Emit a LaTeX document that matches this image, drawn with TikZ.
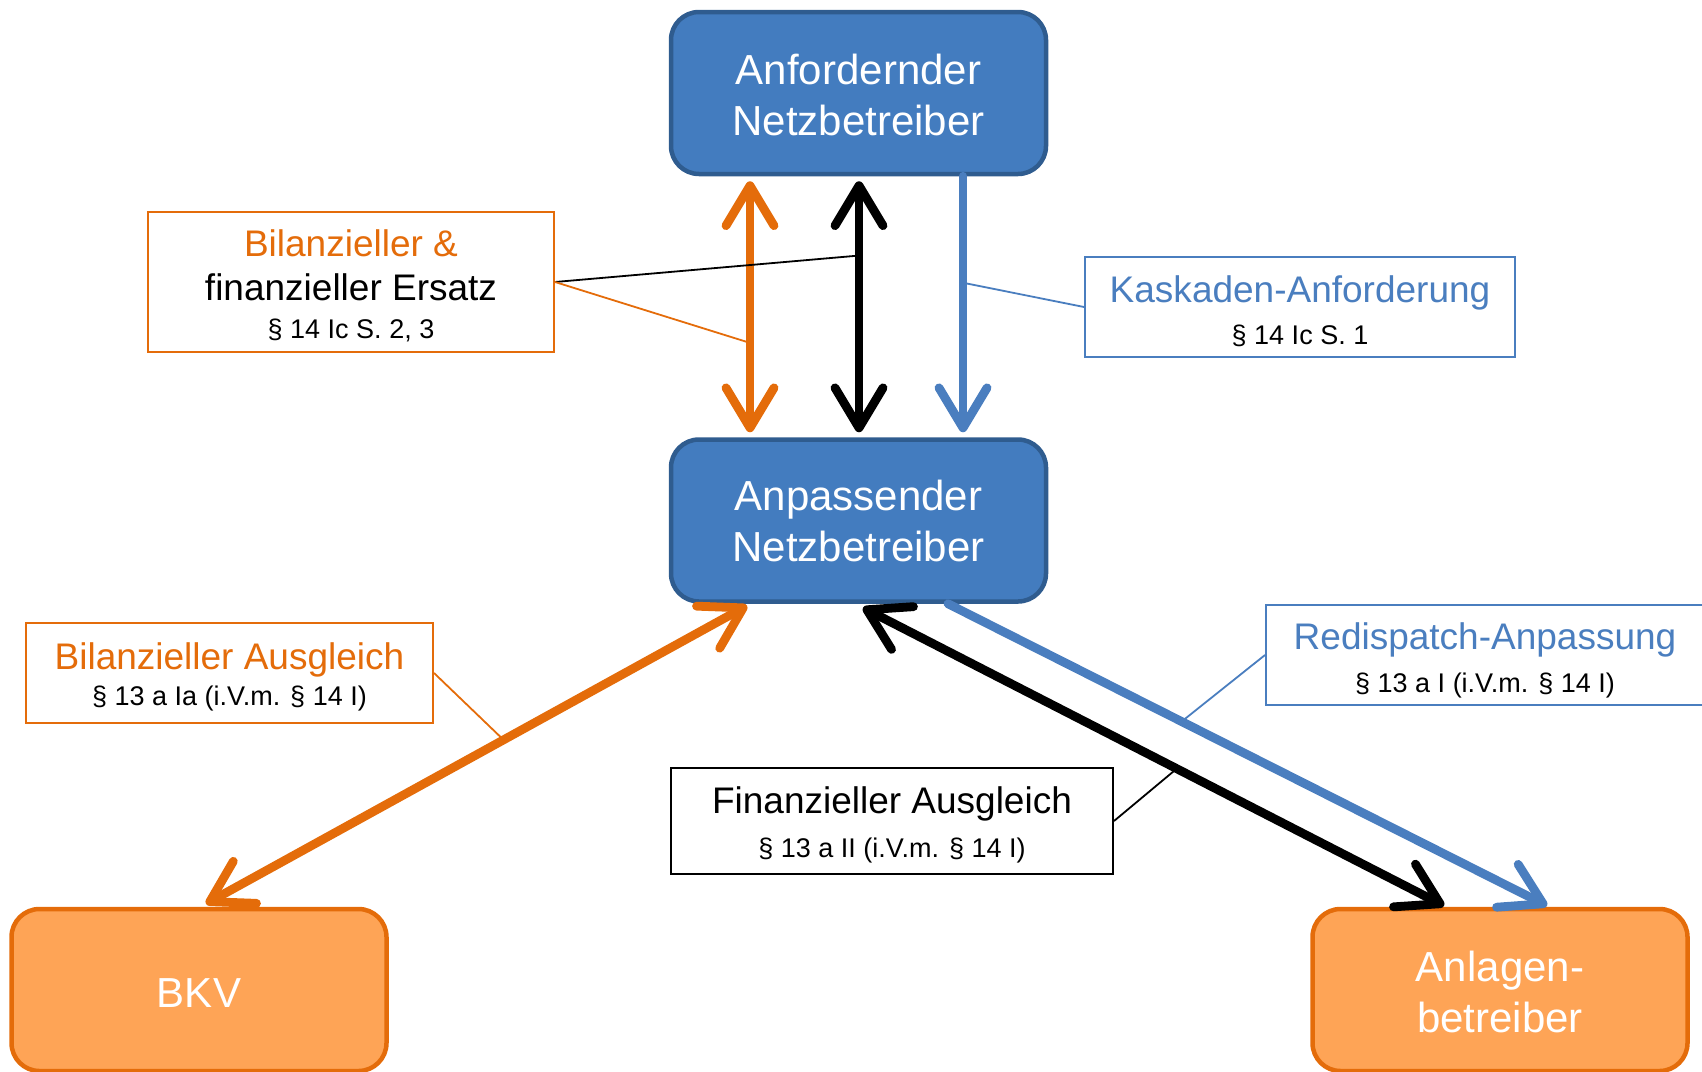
\documentclass[tikz,border=0pt]{standalone}
\usepackage{fontspec}
\setmainfont{Liberation Sans}
\usetikzlibrary{arrows.meta,calc}

\definecolor{boxblue}{HTML}{437CBF}
\definecolor{boxblueline}{HTML}{2F5C8F}
\definecolor{boxorange}{HTML}{FEA456}
\definecolor{darkorange}{HTML}{E46C0A}
\definecolor{arrowblue}{HTML}{4A7EBF}

\tikzset{
  party/.style={rounded corners=28pt, line width=4.5pt, minimum width=375pt,
    minimum height=162pt, inner sep=0pt, text=white, align=center,
    font=\fontsize{42}{51}\selectfont},
  gridop/.style={party, fill=boxblue, draw=boxblueline},
  member/.style={party, fill=boxorange, draw=darkorange},
  legal/.style={draw, line width=2pt, fill=white, inner sep=0pt, align=center,
    font=\fontsize{37}{44}\selectfont},
  barb/.tip={Straight Barb[length=40pt,width=48pt,round]},
  flow/.style={line width=8.8pt, line cap=round},
  leader/.style={line width=1.8pt},
}
% paragraph reference line under a label heading
\newcommand{\para}[1]{{\fontsize{27}{44}\selectfont #1}}
% taller first line, which sets the text block a little lower in its box
\newcommand{\strutA}{\rule{0pt}{35pt}}

\begin{document}
\begin{tikzpicture}[x=1pt,y=-1pt]
  \useasboundingbox (0,0) rectangle (1702,1071);
  \clip (0,0) rectangle (1702,1071);

  % label boxes for the legal references
  \node[legal, draw=darkorange, minimum width=406pt, minimum height=140pt]
    (ersatz) at (351,282)
    {\strutA\textcolor{darkorange}{Bilanzieller \&}\\finanzieller Ersatz\\[-6pt]\para{§ 14 Ic S. 2, 3}};
  \node[legal, draw=arrowblue, minimum width=430pt, minimum height=100pt]
    (kaskade) at (1300,307)
    {\strutA\textcolor{arrowblue}{Kaskaden-Anforderung}\\[-2pt]\para{§ 14 Ic S. 1}};
  \node[legal, draw=darkorange, minimum width=407pt, minimum height=100pt]
    (bilanz) at (229.5,673)
    {\strutA\textcolor{darkorange}{Bilanzieller Ausgleich}\\[-8pt]\para{§ 13 a Ia (i.V.m. § 14 I)}};
  \node[legal, draw=arrowblue, minimum width=438pt, minimum height=100pt]
    (redispatch) at (1485,655)
    {\rule{0pt}{37pt}\textcolor{arrowblue}{Redispatch-Anpassung}\\[-1pt]\para{§ 13 a I (i.V.m. § 14 I)}};
  \node[legal, draw=black, minimum width=442pt, minimum height=106pt]
    (finanz) at (892,821)
    {\strutA Finanzieller Ausgleich\\\para{§ 13 a II (i.V.m. § 14 I)}};

  % parties
  \node[gridop] (top) at (858.5,93) {\strutA Anfordernder\\Netzbetreiber};
  \node[gridop] (mid) at (858.5,520.5) {Anpassender\\Netzbetreiber};
  \node[member] (bkv) at (199,990) {\strutA BKV};
  \node[member] (anl) at (1500,990) {\strutA Anlagen-\\betreiber};

  % arrow end points
  \coordinate (oT) at ([xshift=-108.5pt,yshift=-5pt]top.south);
  \coordinate (oB) at ([xshift=-108.5pt,yshift=5pt]mid.north);
  \coordinate (kT) at ([xshift=0.5pt,yshift=-5pt]top.south);
  \coordinate (kB) at ([xshift=0.5pt,yshift=5pt]mid.north);
  \coordinate (bT) at ([xshift=104.5pt]top.south);
  \coordinate (bB) at ([xshift=104.5pt,yshift=5pt]mid.north);
  \coordinate (dOT) at ([xshift=-111.5pt,yshift=-2pt]mid.south);
  \coordinate (dOB) at ([xshift=7pt,yshift=3pt]bkv.north);
  \coordinate (dKT) at ([xshift=4.5pt,yshift=-4pt]mid.south);
  \coordinate (dKB) at ([xshift=-56pt,yshift=1pt]anl.north);
  \coordinate (dBT) at ([xshift=89.5pt]mid.south);
  \coordinate (dBB) at ([xshift=47pt,yshift=1pt]anl.north);

  % flows between the parties
  \draw[flow, darkorange, barb-barb] (oT) -- (oB) coordinate[pos=0.644] (oL);
  \draw[flow, black, barb-barb] (kT) -- (kB) coordinate[pos=0.296] (kL);
  \draw[flow, arrowblue, -barb] (bT) -- (bB) coordinate[pos=0.416] (bL);
  \draw[flow, darkorange, barb-barb] (dOT) -- (dOB) coordinate[pos=0.45] (dOL);
  \draw[flow, black, barb-barb] (dKT) -- (dKB) coordinate[pos=0.54] (dKL);
  \draw[flow, arrowblue, -barb] (dBT) -- (dBB) coordinate[pos=0.39] (dBL);

  % leader lines from the labels
  \draw[leader, black] (ersatz.east) -- (kL);
  \draw[leader, darkorange] (ersatz.east) -- (oL);
  \draw[leader, arrowblue] (kaskade.west) -- (bL);
  \draw[leader, darkorange] (bilanz.east) -- (dOL);
  \draw[leader, arrowblue] (redispatch.west) -- (dBL);
  \draw[leader, black] (finanz.east) -- (dKL);
\end{tikzpicture}
\end{document}
